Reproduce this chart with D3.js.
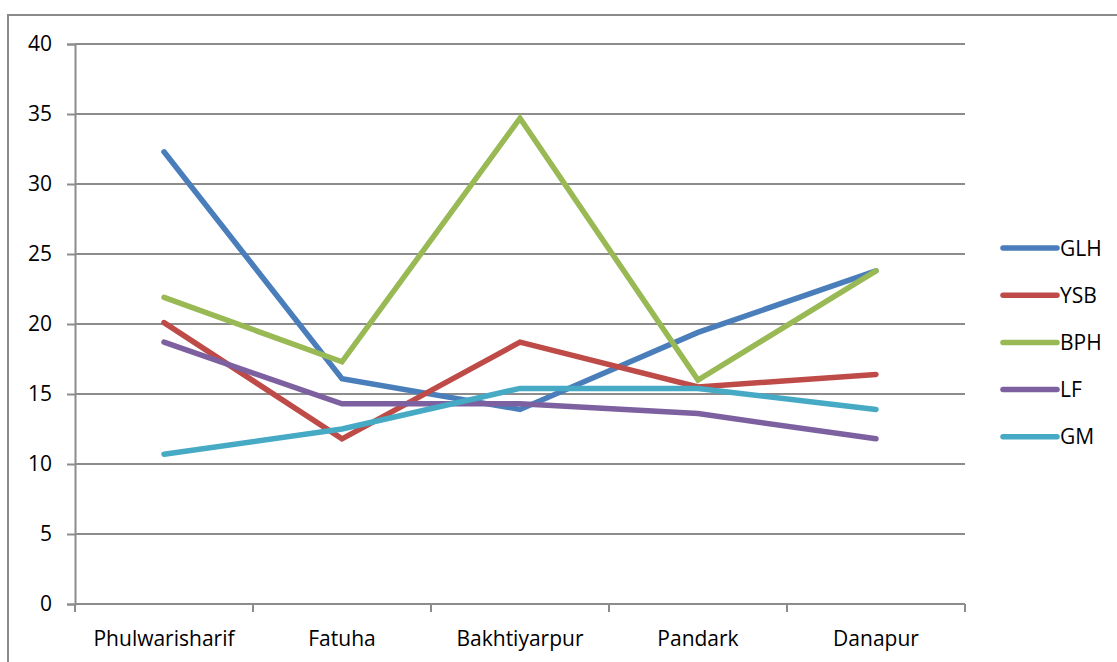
<!DOCTYPE html>
<html>
<head>
<meta charset="utf-8">
<script src="https://cdn.jsdelivr.net/npm/d3@7"></script>
<style>
  body { margin: 0; background: #fff; }
  text { font-family: "Open Sans", "Liberation Sans", sans-serif; fill: #000; }
</style>
</head>
<body>
<div id="chart"></div>
<script>
var categories = ["Phulwarisharif", "Fatuha", "Bakhtiyarpur", "Pandark", "Danapur"]
var yTicks = [0, 5, 10, 15, 20, 25, 30, 35, 40]

var glh = [32.3, 16.1, 13.9, 19.4, 23.8]
var ysb = [20.1, 11.8, 18.7, 15.5, 16.4]
var bph = [21.9, 17.3, 34.7, 16.0, 23.8]
var lf  = [18.7, 14.3, 14.3, 13.6, 11.8]
var gm  = [10.7, 12.5, 15.4, 15.4, 13.9]

var seriesNames = ["GLH", "YSB", "BPH", "LF", "GM"]
var seriesColors = ["#4a7ebb", "#be4b48", "#98b954", "#7d60a0", "#46aac5"]

var series = [glh, ysb, bph, lf, gm].map(function(vals, i) {
  return { name: seriesNames[i], color: seriesColors[i], values: vals }
})

var W = 1117, H = 662
var fontSize = "21px"
var margin = {top: 44, right: 152, bottom: 58, left: 75},
    width  = W - margin.left - margin.right,
    height = H - margin.top - margin.bottom

var svg = d3.select("#chart")
  .append("svg")
  .attr("width", W)
  .attr("height", H)

// outer chart border (runs off the right and bottom edges)
svg.append("rect")
  .attr("x", 8).attr("y", 15)
  .attr("width", 1300).attr("height", 800)
  .attr("fill", "none")
  .attr("stroke", "#8a8a8a")
  .attr("stroke-width", 2)

var chart = svg.append("g")
  .attr("transform", "translate(" + margin.left + "," + margin.top + ")")

var yScale = d3.scaleLinear().domain([0, 40]).range([height, 0])
var xScale = d3.scaleBand().domain(categories).range([0, width])

// gridlines
chart.selectAll(".grid")
  .data(yTicks.filter(function(d){ return d > 0 }))
  .enter()
  .append("line")
  .attr("class", "grid")
  .attr("x1", 0).attr("x2", width)
  .attr("y1", function(d){ return yScale(d) })
  .attr("y2", function(d){ return yScale(d) })
  .attr("stroke", "#8c8c8c")
  .attr("stroke-width", 2)

// y axis
var yAxis = chart.append("g")
  .call(d3.axisLeft(yScale).tickValues(yTicks).tickSize(8).tickPadding(15))
yAxis.select(".domain").attr("stroke", "#8c8c8c").attr("stroke-width", 2)
yAxis.selectAll(".tick line").attr("stroke", "#8c8c8c").attr("stroke-width", 2)
yAxis.selectAll("text").style("font-size", fontSize).attr("fill", "#000")

// x axis: ticks on band boundaries
var xAxis = chart.append("g")
  .attr("transform", "translate(0," + height + ")")
xAxis.append("line")
  .attr("x1", 0).attr("x2", width)
  .attr("stroke", "#8c8c8c").attr("stroke-width", 2)
var bounds = categories.map(function(c){ return xScale(c) }).concat([width])
xAxis.selectAll(".xtick")
  .data(bounds)
  .enter()
  .append("line")
  .attr("x1", function(d){ return d }).attr("x2", function(d){ return d })
  .attr("y1", 0).attr("y2", 8)
  .attr("stroke", "#8c8c8c").attr("stroke-width", 2)
xAxis.selectAll(".xlabel")
  .data(categories)
  .enter()
  .append("text")
  .attr("x", function(d){ return xScale(d) + xScale.bandwidth()/2 })
  .attr("y", 42)
  .attr("text-anchor", "middle")
  .style("font-size", fontSize)
  .text(function(d){ return d })

// lines
var line = d3.line()
  .x(function(d, i){ return xScale(categories[i]) + xScale.bandwidth()/2 })
  .y(function(d){ return yScale(d) })

chart.selectAll(".series")
  .data(series)
  .enter()
  .append("path")
  .attr("class", "series")
  .attr("d", function(d){ return line(d.values) })
  .attr("fill", "none")
  .attr("stroke", function(d){ return d.color })
  .attr("stroke-width", 5.5)
  .attr("stroke-linecap", "round")
  .attr("stroke-linejoin", "miter")

// legend
var legend = svg.append("g")
  .attr("transform", "translate(1003,248)")
var item = legend.selectAll(".item")
  .data(series)
  .enter()
  .append("g")
  .attr("transform", function(d, i){ return "translate(0," + (i * 47.2) + ")" })
item.append("line")
  .attr("x1", 0).attr("x2", 54)
  .attr("stroke", function(d){ return d.color })
  .attr("stroke-width", 5.5)
  .attr("stroke-linecap", "round")
item.append("text")
  .attr("x", 57)
  .attr("y", 7.5)
  .style("font-size", fontSize)
  .text(function(d){ return d.name })
</script>
</body>
</html>
